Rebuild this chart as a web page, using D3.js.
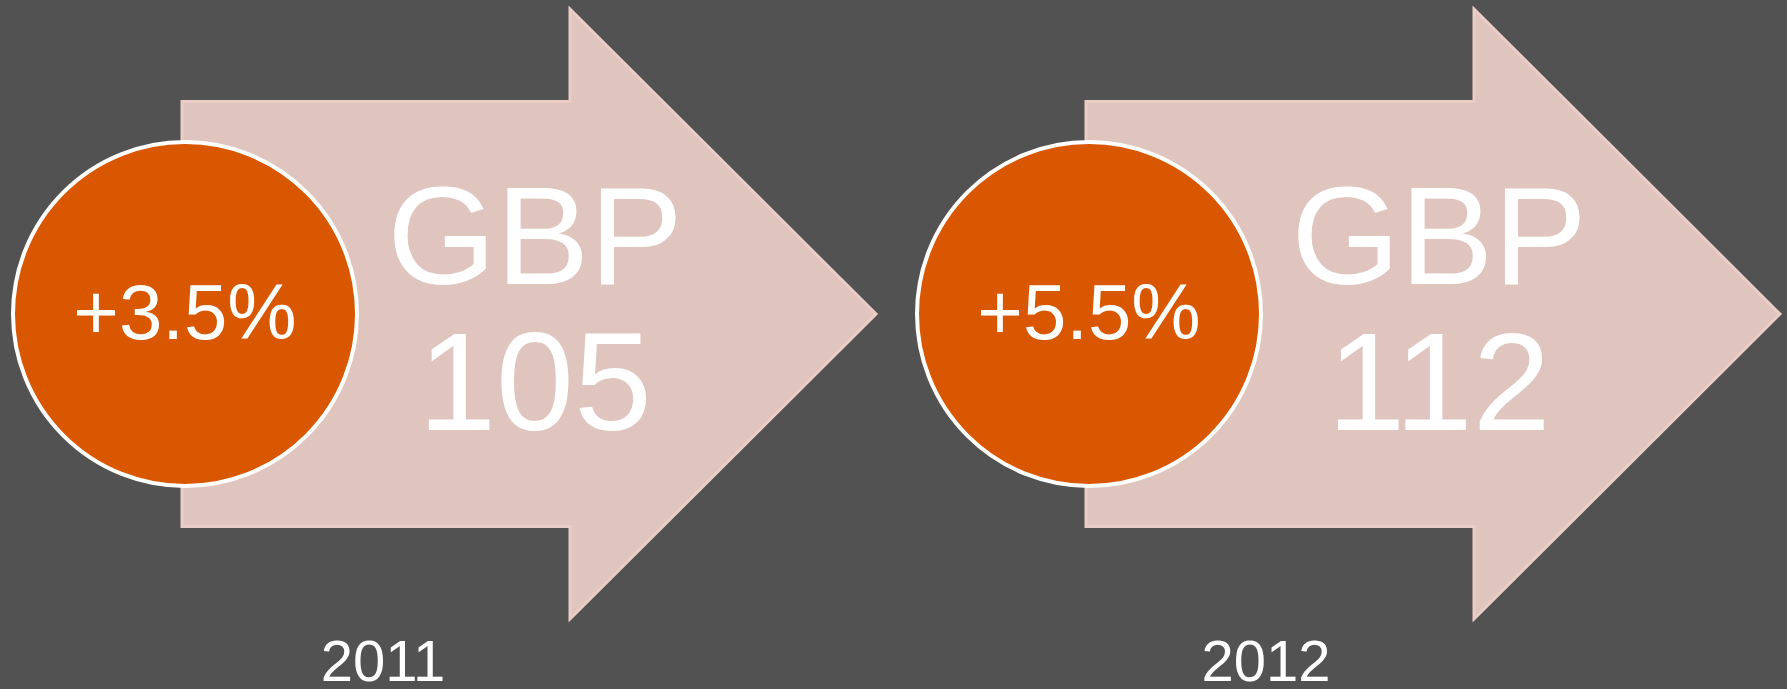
<!DOCTYPE html>
<html>
<head>
<meta charset="utf-8">
<script src="https://cdn.jsdelivr.net/npm/d3@7"></script>
<style>
  body {margin:0; background:#525252;}
  svg text {font-family:Arial, "Liberation Sans", Helvetica, sans-serif; fill:#fff;}
</style>
</head>
<body>
<svg id=holder></svg>
<script>
var years=['2011','2012'];
var values=[105,112];
var growth=[3.5,5.5];
var currency='GBP';

var width=1787;
var height=689;

var svg=d3.select('#holder').attr('width',width).attr('height',height);
svg.append('rect').attr('width',width).attr('height',height).attr('fill','#525252');

// arrow left edges, year label centres
var xscale=d3.scalePoint().domain(years).range([182,1086]);
var xlabel=d3.scalePoint().domain(years).range([383,1266]);

var mid_y=314;
var body_half=212.5;
var head_half=305;
var body_len=388;
var head_len=306;

function arrow_path(x0) {
  var p=d3.path();
  p.moveTo(x0,mid_y-body_half);
  p.lineTo(x0+body_len,mid_y-body_half);
  p.lineTo(x0+body_len,mid_y-head_half);
  p.lineTo(x0+body_len+head_len,mid_y);
  p.lineTo(x0+body_len,mid_y+head_half);
  p.lineTo(x0+body_len,mid_y+body_half);
  p.lineTo(x0,mid_y+body_half);
  p.closePath();
  return p.toString();
}

var gg=svg.selectAll('g.item').data(years).enter().append('g').attr('class','item');

gg.append('path')
  .attr('d',function(d) {return arrow_path(xscale(d));})
  .attr('fill','#e0c5bf')
  .attr('stroke','#ebcdc8')
  .attr('stroke-width',3);

gg.append('text')
  .attr('x',function(d) {return xscale(d)+353;})
  .attr('y',284)
  .attr('text-anchor','middle')
  .style('font-size','140px')
  .text(currency);

gg.append('text')
  .attr('x',function(d) {return xscale(d)+353;})
  .attr('y',430)
  .attr('text-anchor','middle')
  .style('font-size','140px')
  .text(function(d,i) {return values[i];});

gg.append('circle')
  .attr('cx',function(d) {return xscale(d)+3;})
  .attr('cy',mid_y)
  .attr('r',172)
  .attr('fill','#d95700')
  .attr('stroke','#fff')
  .attr('stroke-width',4);

gg.append('text')
  .attr('x',function(d) {return xscale(d)+3;})
  .attr('y',339)
  .attr('text-anchor','middle')
  .style('font-size','78px')
  .text(function(d,i) {return '+'+growth[i].toFixed(1)+'%';});

gg.append('text')
  .attr('x',function(d) {return xlabel(d);})
  .attr('y',681)
  .attr('text-anchor','middle')
  .style('font-size','58px')
  .text(function(d) {return d;});
</script>
</body>
</html>
